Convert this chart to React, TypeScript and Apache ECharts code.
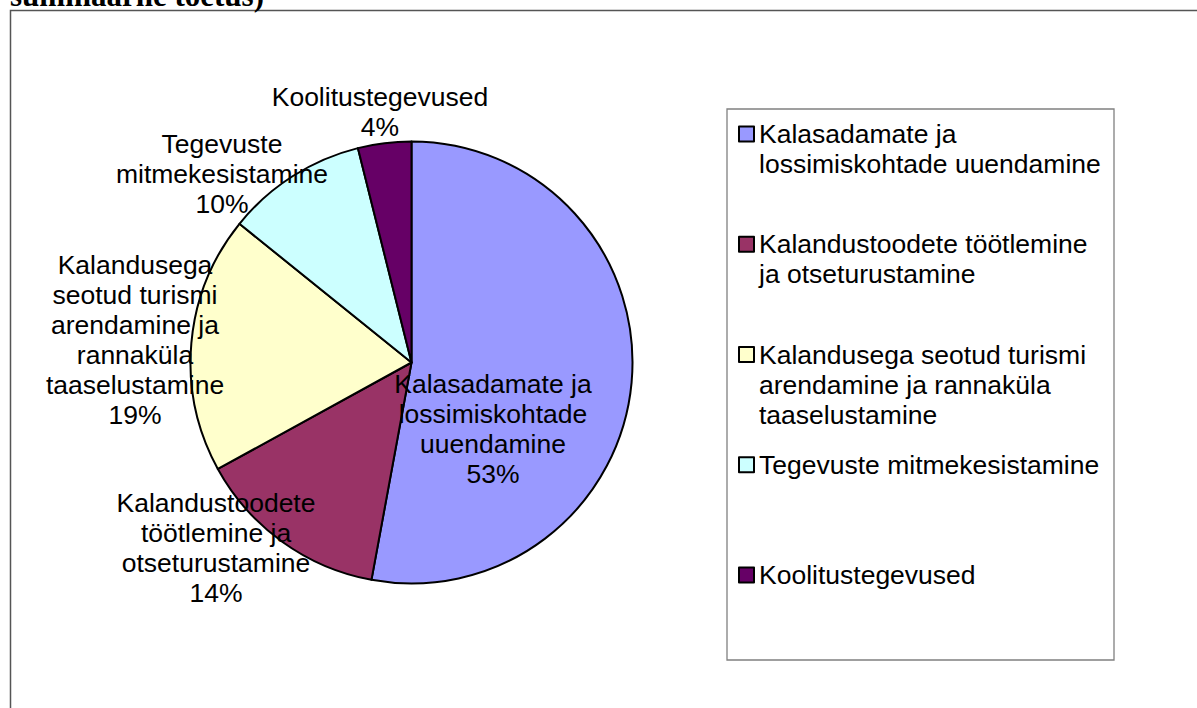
import React, { useEffect, useRef } from "react";
import * as echarts from "echarts";

// ---- data ----
const categories: string[] = [
  "Kalasadamate ja lossimiskohtade uuendamine",
  "Kalandustoodete töötlemine ja otseturustamine",
  "Kalandusega seotud turismi arendamine ja rannaküla taaselustamine",
  "Tegevuste mitmekesistamine",
  "Koolitustegevused",
];
const values: number[] = [52.9, 14.1, 18.8, 10.3, 3.9];
const colors: string[] = ["#9999FF", "#993366", "#FFFFCC", "#CCFFFF", "#660066"];

// line breaks of the slice labels
const sliceLabelLines: string[][] = [
  ["Kalasadamate ja", "lossimiskohtade", "uuendamine"],
  ["Kalandustoodete", "töötlemine ja", "otseturustamine"],
  ["Kalandusega", "seotud turismi", "arendamine ja", "rannaküla", "taaselustamine"],
  ["Tegevuste", "mitmekesistamine"],
  ["Koolitustegevused"],
];
// line breaks of the legend entries
const legendLines: string[][] = [
  ["Kalasadamate ja", "lossimiskohtade uuendamine"],
  ["Kalandustoodete töötlemine", "ja otseturustamine"],
  ["Kalandusega seotud turismi", "arendamine ja rannaküla", "taaselustamine"],
  ["Tegevuste mitmekesistamine"],
  ["Koolitustegevused"],
];
const topText = "summaarne toetus)";

// ---- layout / style ----
const W = 1197;
const H = 708;
const CX = 411.5;
const CY = 362.5;
const R = 221;
const FONT = '"Liberation Sans", Arial, sans-serif';
const FS = 26.5;
const LH = 30;
// label centre offsets from the pie centre (layout)
const labelOffsets: number[][] = [
  [81.5, 66.5],
  [-195.5, 185],
  [-276.5, -22.5],
  [-189.5, -188.5],
  [-31.5, -250.5],
];
const LEGEND_PAD_LINES = 5;
const LEGEND_FIRST_TOP = 134; // centre of first legend line
const LEGEND_STEP = 110.25;

export default function App() {
  const ref = useRef<HTMLDivElement>(null);

  useEffect(() => {
    if (!ref.current) return;
    const chart = echarts.init(ref.current, undefined, { renderer: "svg" });

    const data = categories.map((name, i) => ({
      name,
      value: values[i],
      itemStyle: { color: colors[i] },
    }));

    const option: any = {
      animation: false,
      backgroundColor: "#ffffff",
      legend: {
        orient: "vertical",
        left: 738,
        top: LEGEND_FIRST_TOP - (LEGEND_PAD_LINES * LH) / 2,
        padding: 0,
        itemGap: LEGEND_STEP - LEGEND_PAD_LINES * LH,
        itemWidth: 15,
        itemHeight: 15,
        icon: "rect",
        selectedMode: false,
        data: categories,
        itemStyle: { borderColor: "#000", borderWidth: 2 },
        textStyle: {
          color: "#000",
          fontFamily: FONT,
          fontSize: FS,
          lineHeight: LH,
        },
        formatter: (name: string) => {
          const i = categories.indexOf(name);
          const lines = legendLines[i] || [name];
          const pre = Math.floor((LEGEND_PAD_LINES - 1) / 2);
          const arr: string[] = [];
          for (let k = 0; k < pre; k++) arr.push(" ");
          arr.push(...lines);
          while (arr.length < LEGEND_PAD_LINES) arr.push(" ");
          return arr.join("\n");
        },
      },
      graphic: [
        {
          type: "rect",
          z: -10,
          silent: true,
          shape: { x: 10.5, y: 10.5, width: 1300, height: 800 },
          style: { fill: "none", stroke: "#555555", lineWidth: 1.5 },
        },
        {
          type: "rect",
          z: -5,
          silent: true,
          shape: { x: 727, y: 109, width: 387, height: 551 },
          style: { fill: "#ffffff", stroke: "#808080", lineWidth: 1.3 },
        },
        {
          type: "text",
          silent: true,
          style: {
            text: topText,
            x: 10,
            y: -4.5,
            fill: "#000",
            font: 'bold 31px "Liberation Serif", "Times New Roman", serif',
            verticalAlign: "middle",
          },
        },
      ],
      series: [
        {
          type: "pie",
          center: [CX, CY],
          radius: R,
          startAngle: 90,
          clockwise: true,
          avoidLabelOverlap: false,
          emphasis: { disabled: true },
          itemStyle: { borderColor: "#000", borderWidth: 2 },
          label: {
            show: true,
            position: "inside",
            color: "#000",
            fontFamily: FONT,
            fontSize: FS,
            lineHeight: LH,
            align: "center",
            formatter: (p: any) =>
              [...(sliceLabelLines[p.dataIndex] || [p.name]), Math.round(p.percent) + "%"].join("\n"),
          },
          labelLine: { show: false },
          labelLayout: (p: any) => {
            const off = labelOffsets[p.dataIndex];
            return {
              x: CX + off[0],
              y: CY + off[1],
              align: "center",
              verticalAlign: "middle",
            };
          },
          data,
        },
      ],
    };

    chart.setOption(option);
    return () => chart.dispose();
  }, []);

  return (
    <div
      ref={ref}
      style={{ position: "absolute", left: 0, top: 0, width: W, height: H }}
    />
  );
}
